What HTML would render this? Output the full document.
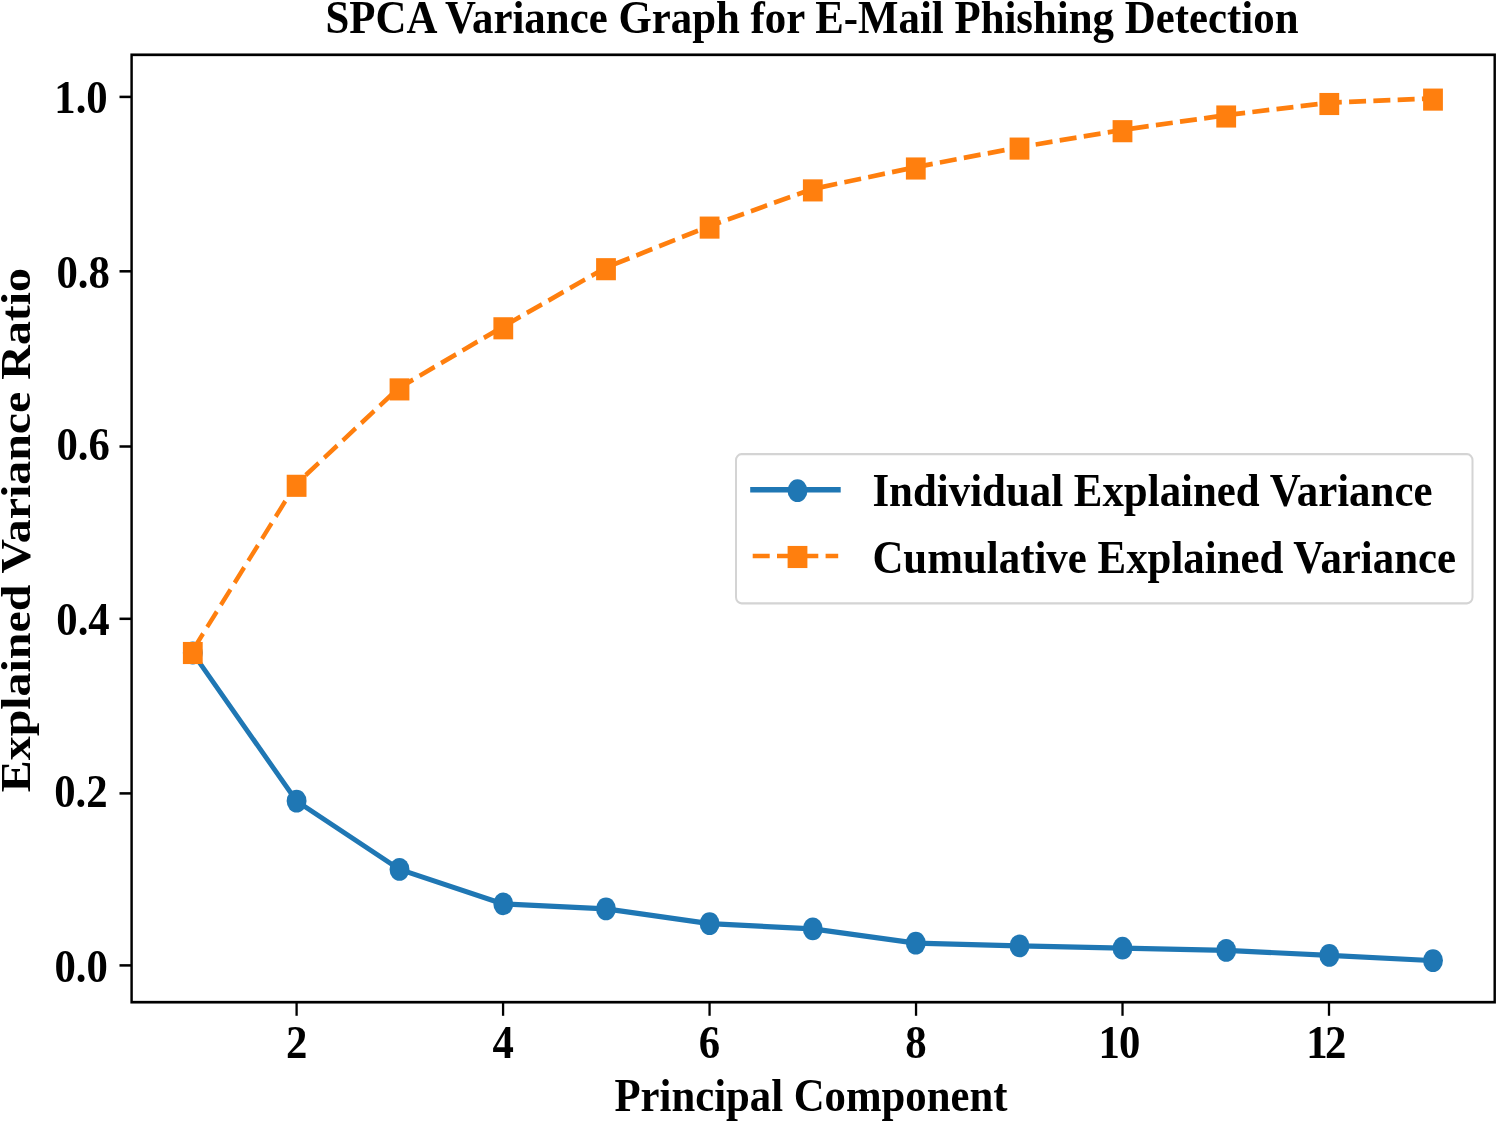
<!DOCTYPE html>
<html lang="en">
<head>
<meta charset="utf-8">
<title>SPCA Variance Graph for E-Mail Phishing Detection</title>
<style>
html,body{margin:0;padding:0;background:#fff;}
body{width:1500px;height:1124px;overflow:hidden;position:relative;}
</style>
</head>
<body>
<svg width="1500" height="1124" viewBox="0 0 1500 1021.818" preserveAspectRatio="none" style="display:block;position:absolute;left:0;top:0;will-change:transform" font-family="'Liberation Serif', serif" font-weight="bold" font-size="42.75" fill="#000">
<rect x="0" y="0" width="1500" height="1021.818" fill="#fff"/>
<polyline points="192.80,593.64 296.60,728.27 399.50,790.36 503.30,821.73 606.00,826.27 709.60,839.64 812.80,844.45 915.80,857.36 1019.50,859.91 1122.50,862.00 1226.20,864.00 1329.30,868.55 1433.00,873.27" fill="none" stroke="#1f77b4" stroke-width="4.7" stroke-linejoin="round" stroke-linecap="square"/>
<ellipse cx="192.80" cy="593.64" rx="9.95" ry="10.35" fill="#1f77b4"/>
<ellipse cx="296.60" cy="728.27" rx="9.95" ry="10.35" fill="#1f77b4"/>
<ellipse cx="399.50" cy="790.36" rx="9.95" ry="10.35" fill="#1f77b4"/>
<ellipse cx="503.30" cy="821.73" rx="9.95" ry="10.35" fill="#1f77b4"/>
<ellipse cx="606.00" cy="826.27" rx="9.95" ry="10.35" fill="#1f77b4"/>
<ellipse cx="709.60" cy="839.64" rx="9.95" ry="10.35" fill="#1f77b4"/>
<ellipse cx="812.80" cy="844.45" rx="9.95" ry="10.35" fill="#1f77b4"/>
<ellipse cx="915.80" cy="857.36" rx="9.95" ry="10.35" fill="#1f77b4"/>
<ellipse cx="1019.50" cy="859.91" rx="9.95" ry="10.35" fill="#1f77b4"/>
<ellipse cx="1122.50" cy="862.00" rx="9.95" ry="10.35" fill="#1f77b4"/>
<ellipse cx="1226.20" cy="864.00" rx="9.95" ry="10.35" fill="#1f77b4"/>
<ellipse cx="1329.30" cy="868.55" rx="9.95" ry="10.35" fill="#1f77b4"/>
<ellipse cx="1433.00" cy="873.27" rx="9.95" ry="10.35" fill="#1f77b4"/>
<polyline points="191.80,592.55 295.60,440.55 398.50,352.91 502.30,297.36 605.00,243.64 708.60,205.82 811.80,172.00 914.80,152.09 1018.50,134.00 1121.50,118.18 1225.20,104.82 1328.30,93.45 1432.00,89.45" fill="none" stroke="#ff7f0e" stroke-width="4.3" stroke-linejoin="round" stroke-dasharray="17 7.3" stroke-dashoffset="-3.0"/>
<rect x="182.90" y="583.59" width="19.8" height="20.1" fill="#ff7f0e"/>
<rect x="286.70" y="431.59" width="19.8" height="20.1" fill="#ff7f0e"/>
<rect x="389.60" y="343.95" width="19.8" height="20.1" fill="#ff7f0e"/>
<rect x="493.40" y="288.40" width="19.8" height="20.1" fill="#ff7f0e"/>
<rect x="596.10" y="234.68" width="19.8" height="20.1" fill="#ff7f0e"/>
<rect x="699.70" y="196.86" width="19.8" height="20.1" fill="#ff7f0e"/>
<rect x="802.90" y="163.04" width="19.8" height="20.1" fill="#ff7f0e"/>
<rect x="905.90" y="143.13" width="19.8" height="20.1" fill="#ff7f0e"/>
<rect x="1009.60" y="125.04" width="19.8" height="20.1" fill="#ff7f0e"/>
<rect x="1112.60" y="109.22" width="19.8" height="20.1" fill="#ff7f0e"/>
<rect x="1216.30" y="95.86" width="19.8" height="20.1" fill="#ff7f0e"/>
<rect x="1319.40" y="84.50" width="19.8" height="20.1" fill="#ff7f0e"/>
<rect x="1423.10" y="80.50" width="19.8" height="20.1" fill="#ff7f0e"/>
<rect x="131.6" y="49.82" width="1363.1000000000001" height="861.27" fill="none" stroke="#000" stroke-width="2.45"/>
<line x1="119.50" x2="131.60" y1="877.64" y2="877.64" stroke="#000" stroke-width="2.3"/>
<text x="107.9" y="892.45" text-anchor="end">0.0</text>
<line x1="119.50" x2="131.60" y1="721.27" y2="721.27" stroke="#000" stroke-width="2.3"/>
<text x="107.6" y="733.82" text-anchor="end">0.2</text>
<line x1="119.50" x2="131.60" y1="562.55" y2="562.55" stroke="#000" stroke-width="2.3"/>
<text x="109.7" y="577.00" text-anchor="end">0.4</text>
<line x1="119.50" x2="131.60" y1="405.91" y2="405.91" stroke="#000" stroke-width="2.3"/>
<text x="109.9" y="418.09" text-anchor="end">0.6</text>
<line x1="119.50" x2="131.60" y1="246.64" y2="246.64" stroke="#000" stroke-width="2.3"/>
<text x="109.9" y="261.82" text-anchor="end">0.8</text>
<line x1="119.50" x2="131.60" y1="88.09" y2="88.09" stroke="#000" stroke-width="2.3"/>
<text x="107.7" y="102.45" text-anchor="end">1.0</text>
<line x1="296.60" x2="296.60" y1="911.09" y2="923.45" stroke="#000" stroke-width="2.3"/>
<text x="296.60" y="961.82" text-anchor="middle">2</text>
<line x1="503.08" x2="503.08" y1="911.09" y2="923.45" stroke="#000" stroke-width="2.3"/>
<text x="503.08" y="961.82" text-anchor="middle">4</text>
<line x1="709.56" x2="709.56" y1="911.09" y2="923.45" stroke="#000" stroke-width="2.3"/>
<text x="709.56" y="961.82" text-anchor="middle">6</text>
<line x1="916.04" x2="916.04" y1="911.09" y2="923.45" stroke="#000" stroke-width="2.3"/>
<text x="916.04" y="961.82" text-anchor="middle">8</text>
<line x1="1122.52" x2="1122.52" y1="911.09" y2="923.45" stroke="#000" stroke-width="2.3"/>
<text x="1119.52" y="961.82" text-anchor="middle">1<tspan dx="-0.8">0</tspan></text>
<line x1="1329.00" x2="1329.00" y1="911.09" y2="923.45" stroke="#000" stroke-width="2.3"/>
<text x="1326.40" y="961.82" text-anchor="middle">1<tspan dx="-2.6">2</tspan></text>
<text x="812.0" y="30.27" text-anchor="middle" font-size="42.86">SPCA Variance Graph for E-Mail Phishing Detection</text>
<text x="811.0" y="1009.82" text-anchor="middle">Principal Component</text>
<text transform="translate(30.2,481.91) rotate(-90) scale(1.019,1)" text-anchor="middle">Explained Variance Ratio</text>
<rect x="736.0" y="412.91" width="736.50" height="135.55" rx="5.5" ry="5.5" fill="#fff" fill-opacity="0.8" stroke="#d4d4d4" stroke-width="2.0"/>
<line x1="752.7" x2="838.2" y1="445.18" y2="445.18" stroke="#1f77b4" stroke-width="5.0" stroke-linecap="square"/>
<ellipse cx="797.50" cy="446.09" rx="9.95" ry="10.35" fill="#1f77b4"/>
<line x1="752.7" x2="838.2" y1="505.45" y2="505.45" stroke="#ff7f0e" stroke-width="4.3" stroke-dasharray="17 7.3"/>
<rect x="787.60" y="496.31" width="19.8" height="20.1" fill="#ff7f0e"/>
<text x="872.4" y="460.27" font-size="42.9">Individual Explained Variance</text>
<text x="872.4" y="520.91" font-size="42.9">Cumulative Explained Variance</text>
</svg>
</body>
</html>
